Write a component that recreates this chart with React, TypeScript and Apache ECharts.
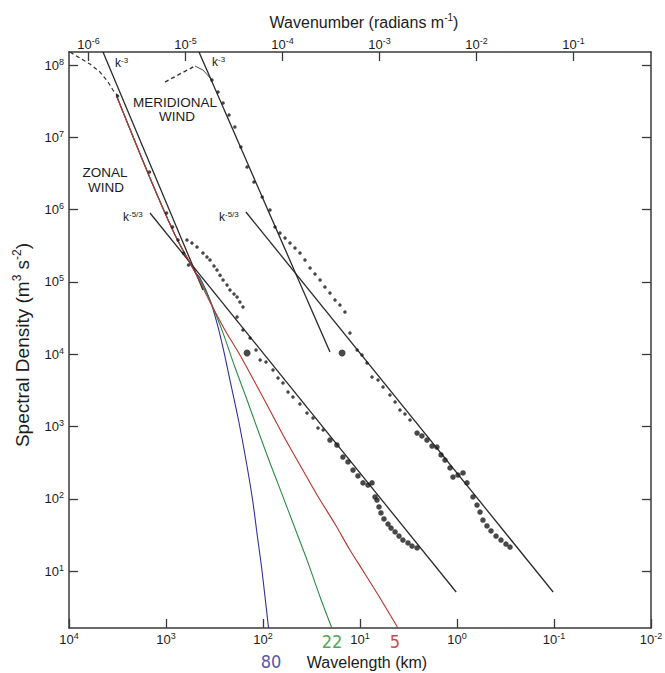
import React, { useEffect, useRef } from "react";
import * as echarts from "echarts";

const FONT = "'Liberation Sans', Arial, Helvetica, sans-serif";
const NARROW = "'Liberation Sans Narrow', 'DejaVu Sans Condensed', sans-serif";

// ---- axes ----
const wavelengthTicks = [1e4, 1e3, 1e2, 1e1, 1, 1e-1, 1e-2]; // km
const wavenumberTicks = [1e-6, 1e-5, 1e-4, 1e-3, 1e-2, 1e-1]; // rad m^-1
const densityTicks = [1e1, 1e2, 1e3, 1e4, 1e5, 1e6, 1e7, 1e8]; // m^3 s^-2
const wavelengthExtent = [0.01, 10000];
const densityExtent = [1.633, 1.514e8];

// ---- reference slopes [wavelength km, spectral density] ----
const zonalK3Fit = [[4462, 1.51e8], [416, 7.73e4]];
const zonalK53Fit = [[1462, 8.97e5], [1.02, 5.14]];
const meridionalK3Fit = [[457, 1.51e8], [20.4, 1.07e4]];
const meridionalK53Fit = [[150, 9.27e5], [0.102, 5.14]];

// ---- dashed large-scale parts ----
const zonalDashed = [[9770, 1.51e8], [7710, 1.25e8], [6080, 1.03e8], [4790, 8.0e7], [3960, 5.82e7], [3520, 4.51e7], [3130, 3.72e7]];
const meridionalDashed = [[1023, 5.82e7], [718, 7.52e7], [502, 9.68e7]];
const meridionalLink = [[502, 9.68e7], [416, 8.53e7], [336, 6.21e7]];

// ---- observed spectra ----
const zonalPoints = [
  [3162, 3.72e7], [1480, 3.31e6], [986, 8.97e5], [857, 5.74e5], [752, 3.8e5], [660, 2.51e5], [586, 1.71e5],
  [608, 3.8e5], [540, 3.45e5], [479, 3.04e5], [416, 2.51e5], [378, 2.21e5], [352, 2.01e5], [320, 1.66e5],
  [298, 1.46e5], [277, 1.24e5], [258, 1.06e5], [235, 9.06e4], [219, 7.73e4], [199, 6.81e4], [185, 6.18e4],
  [173, 5.27e4], [161, 4.5e4], [185, 3.27e4], [161, 2.16e4],
  [136, 1.67e4], [118, 1.14e4], [107, 8.32e3], [93.1, 7.8e3], [78.9, 6.04e3], [70.0, 4.69e3], [62.2, 4.0e3],
  [55.2, 3.0e3], [49.1, 2.56e3], [41.6, 2.05e3], [35.2, 1.54e3], [30.5, 1.31e3], [27.1, 953], [24.0, 895],
];
const zonalBold = [
  [20.4, 650], [17.3, 555], [15.0, 378], [13.3, 323], [11.8, 250], [10.5, 207], [9.31, 166], [8.27, 155],
  [7.52, 166], [7.0, 106], [6.68, 96.2], [6.37, 77.1], [6.08, 63.7], [5.66, 52.6], [5.14, 44.8], [4.79, 39.4],
  [4.35, 34.8], [3.96, 30.5], [3.61, 26.9], [3.2, 24.5], [2.91, 22.2], [2.58, 20.9],
];
const meridionalPoints = [
  [336, 6.21e7], [291, 4.23e7], [258, 2.98e7], [224, 2.03e7], [195, 1.39e7], [169, 7.35e6], [146, 3.88e6],
  [124, 2.41e6], [102, 1.49e6], [84.7, 9.86e5], [75.2, 5.74e5],
  [66.8, 4.74e5], [59.3, 4.05e5], [52.7, 3.45e5], [46.8, 2.94e5], [41.6, 2.51e5], [36.9, 2.01e5], [32.7, 1.56e5],
  [29.1, 1.29e5], [25.8, 1.06e5], [23.0, 8.5e4], [20.4, 7.02e4], [18.1, 5.62e4], [16.1, 4.79e4], [14.3, 3.84e4],
  [12.7, 1.96e4], [10.7, 1.14e4], [9.53, 9.75e3], [8.47, 7.55e3], [7.52, 4.84e3], [6.52, 4.4e3], [5.79, 3.52e3],
  [4.91, 2.73e3], [4.35, 2.18e3], [3.87, 1.69e3], [3.44, 1.49e3], [3.05, 1.23e3],
];
const meridionalBold = [
  [2.58, 813], [2.3, 740], [2.04, 650], [1.81, 537], [1.61, 520], [1.46, 404], [1.33, 344], [1.18, 267],
  [1.1, 200], [0.977, 213], [0.867, 228], [0.789, 166], [0.684, 106], [0.622, 82.0], [0.579, 65.6],
  [0.54, 50.9], [0.491, 42.1], [0.446, 35.9], [0.396, 30.5], [0.352, 26.9], [0.313, 23.7], [0.284, 21.5],
];
const isolatedPoints = [[146, 1.04e4], [15.3, 1.04e4]];

// ---- model spectra (labelled by the value at the bottom) ----
const curve80 = [[3200, 3.61e7], [1462, 2.74e6], [807, 4.46e5], [502, 1.37e5], [446, 1.13e5], [352, 5.62e4], [298, 2.7e4], [255, 1.14e4], [216, 4.0e3], [179, 1.23e3], [148, 313], [128, 96.2], [114, 29.6], [103.5, 11.4], [95.3, 4.39], [87.7, 1.63]];
const curve22 = [[3200, 3.61e7], [1462, 2.74e6], [807, 4.46e5], [502, 1.37e5], [446, 1.06e5], [336, 4.79e4], [258, 1.96e4], [195, 6.65e3], [146, 2.33e3], [113, 895], [84.7, 313], [63.7, 116], [49.1, 46.2], [35.2, 14.3], [25.8, 4.39], [19.5, 1.63]];
const curve5 = [[3200, 3.61e7], [1462, 2.74e6], [807, 4.46e5], [502, 1.37e5], [352, 5.27e4], [247, 2.16e4], [173, 9.75e3], [107, 3.0e3], [62.2, 762], [41.6, 293], [27.7, 113], [18.1, 44.8], [12.7, 19.6], [8.87, 9.12], [6.22, 4.25], [4.06, 1.63]];
const curveLabels = ["80", "22", "5"];

const AXIS_COLOR = "#3a3a3a";
const TEXT_COLOR = "#1c1c1c";

const supLabel = (v: number) => `{b|10}{s|${Math.round(Math.log10(v))}}`;
const axisRich = {
  b: { fontSize: 13, lineHeight: 16, fontFamily: FONT, color: TEXT_COLOR },
  s: { fontSize: 9, lineHeight: 9, verticalAlign: "top", fontFamily: FONT, color: TEXT_COLOR },
};

function logAxis(extra: any, ticks: number[], showLabel: boolean, margin = 3) {
  return {
    type: "log",
    logBase: 10,
    axisLine: { show: true, onZero: false, lineStyle: { color: AXIS_COLOR, width: 1.5 } },
    axisTick: { show: true, inside: true, length: 9, customValues: ticks, lineStyle: { color: AXIS_COLOR, width: 1.3 } },
    axisLabel: showLabel
      ? { show: true, customValues: ticks, formatter: supLabel, rich: axisRich, margin }
      : { show: false },
    splitLine: { show: false },
    minorTick: { show: false },
    minorSplitLine: { show: false },
    ...extra,
  };
}

const lineSeries = (data: number[][], color: string, width: number, extra: any = {}) => ({
  type: "line",
  data,
  xAxisIndex: 0,
  yAxisIndex: 0,
  symbol: "none",
  showSymbol: false,
  silent: true,
  lineStyle: { color, width },
  z: 3,
  ...extra,
});

const scatterSeries = (data: number[][], size: number, z = 5) => ({
  type: "scatter",
  data,
  xAxisIndex: 0,
  yAxisIndex: 0,
  symbol: "circle",
  symbolSize: size,
  silent: true,
  itemStyle: { color: "#1a1a1a" },
  z,
});

const txt = (text: string, x: number, y: number, size: number, align = "center", extra: any = {}) => ({
  type: "text",
  x,
  y,
  silent: true,
  z: 20,
  ...extra,
  style: {
    text,
    x: 0,
    y: 0,
    font: `${size}px ${FONT}`,
    fill: TEXT_COLOR,
    align,
    verticalAlign: "middle",
    textAlign: align,
    textVerticalAlign: "middle",
    ...(extra.style || {}),
  },
});

const kRich = {
  k: { fontSize: 12, lineHeight: 14, fontFamily: FONT, fill: TEXT_COLOR, color: TEXT_COLOR },
  s: { fontSize: 8, lineHeight: 8, verticalAlign: "top", fontFamily: FONT, fill: TEXT_COLOR, color: TEXT_COLOR },
};
const titleRich = (size: number, supSize: number) => ({
  a: { fontSize: size, lineHeight: size + 4, fontFamily: FONT, fill: TEXT_COLOR, color: TEXT_COLOR },
  s: { fontSize: supSize, lineHeight: supSize, verticalAlign: "top", fontFamily: FONT, fill: TEXT_COLOR, color: TEXT_COLOR },
});

export default function App() {
  const ref = useRef<HTMLDivElement>(null);
  useEffect(() => {
    if (!ref.current) return;
    const chart = echarts.init(ref.current, null, { renderer: "svg" });
    const wavenumberExtent = [
      (2 * Math.PI) / (wavelengthExtent[1] * 1000),
      (2 * Math.PI) / (wavelengthExtent[0] * 1000),
    ];
    const option: any = {
      animation: false,
      backgroundColor: "#ffffff",
      grid: { left: 69, right: 14, top: 52, bottom: 45, containLabel: false, outerBoundsMode: "none" },
      xAxis: [
        logAxis({ position: "bottom", inverse: true, min: wavelengthExtent[0], max: wavelengthExtent[1] }, wavelengthTicks, true, 3),
        logAxis({ position: "top", min: wavenumberExtent[0], max: wavenumberExtent[1] }, wavenumberTicks, true, 0),
      ],
      yAxis: [
        logAxis({ position: "left", min: densityExtent[0], max: densityExtent[1] }, densityTicks, true, 5),
        logAxis({ position: "right", min: densityExtent[0], max: densityExtent[1] }, densityTicks, false),
      ],
      series: [
        lineSeries(curve80, "#2f2f9c", 1.1, { smooth: 0.3 }),
        lineSeries(curve22, "#2c8c45", 1.1, { smooth: 0.3 }),
        lineSeries(curve5, "#b8322c", 1.1, { smooth: 0.3, z: 4 }),
        lineSeries(zonalK3Fit, "#2a2a2a", 1.3),
        lineSeries(zonalK53Fit, "#2a2a2a", 1.3),
        lineSeries(meridionalK3Fit, "#2a2a2a", 1.3),
        lineSeries(meridionalK53Fit, "#2a2a2a", 1.3),
        lineSeries(zonalDashed, "#333333", 1.2, { lineStyle: { color: "#333333", width: 1.2, type: [4, 3] } }),
        lineSeries(meridionalDashed, "#333333", 1.4, { lineStyle: { color: "#333333", width: 1.4, type: [4, 3] } }),
        lineSeries(meridionalLink, "#333333", 0.9),
        scatterSeries(zonalPoints, 3.5),
        scatterSeries(zonalBold, 5.5),
        scatterSeries(meridionalPoints, 3.5),
        scatterSeries(meridionalBold, 5.5),
        scatterSeries(isolatedPoints, 7),
      ],
      graphic: [
        txt("{a|Wavenumber (radians m}{s|-1}{a|)}", 364, 22, 16, "center", { style: { rich: titleRich(16, 10) } }),
        txt("Wavelength (km)", 367, 662, 16),
        txt("{a|Spectral Density (m}{s|3}{a| s}{s|-2}{a|)}", 22, 345, 19, "center", { rotation: Math.PI / 2, style: { rich: titleRich(19, 12) } }),
        txt("MERIDIONAL", 175, 102, 13.5),
        txt("WIND", 177, 116, 13.5),
        txt("ZONAL", 105, 172, 13.5),
        txt("WIND", 106, 187, 13.5),
        txt("{k|k}{s|-3}", 115, 63, 12, "left", { style: { rich: kRich } }),
        txt("{k|k}{s|-3}", 212, 62, 12, "left", { style: { rich: kRich } }),
        txt("{k|k}{s|-5/3}", 123, 217, 12, "left", { style: { rich: kRich } }),
        txt("{k|k}{s|-5/3}", 219, 217, 12, "left", { style: { rich: kRich } }),
        txt(curveLabels[0], 271, 661, 18, "center", { style: { font: `18px ${NARROW}`, fill: "#5656a8" } }),
        txt(curveLabels[1], 332, 641, 18, "center", { style: { font: `18px ${NARROW}`, fill: "#4fa85a" } }),
        txt(curveLabels[2], 395, 641, 18, "center", { style: { font: `18px ${NARROW}`, fill: "#cc4a55" } }),
      ],
    };
    chart.setOption(option);
    return () => chart.dispose();
  }, []);
  return (
    <div
      ref={ref}
      style={{ position: "absolute", left: 0, top: 0, width: 665, height: 673, background: "#fff" }}
    />
  );
}
